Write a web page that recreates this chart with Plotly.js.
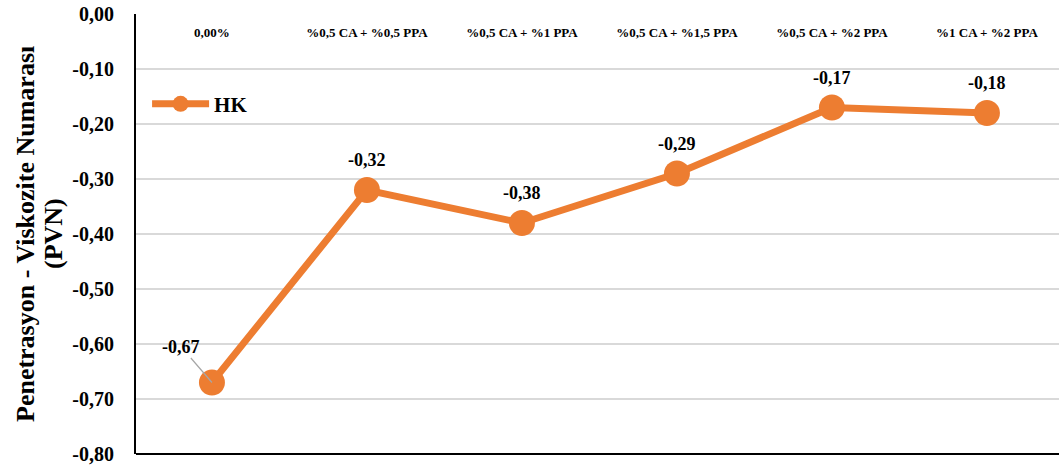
<!DOCTYPE html>
<html>
<head>
<meta charset="utf-8">
<script src="https://cdn.plot.ly/plotly-3.0.1.min.js"></script>
<style>html,body{margin:0;padding:0;background:#fff;}#chart{width:1059px;height:465px;}</style>
</head>
<body>
<div id="chart"></div>
<script>
const categories = ["0,00%", "%0,5 CA + %0,5 PPA", "%0,5 CA + %1 PPA", "%0,5 CA + %1,5 PPA", "%0,5 CA + %2 PPA", "%1 CA + %2 PPA"];
const hkValues = [-0.67, -0.32, -0.38, -0.29, -0.17, -0.18];
const yTickVals = [0, -0.1, -0.2, -0.3, -0.4, -0.5, -0.6, -0.7, -0.8];
const yTickText = ["0,00", "-0,10", "-0,20", "-0,30", "-0,40", "-0,50", "-0,60", "-0,70", "-0,80"];
const seriesName = "HK";
const yTitleLines = ["Penetrasyon - Viskozite Numarası", "(PVN)"];
const orange = "#ED7D31";
const serif = "Liberation Serif, Times New Roman, serif";

const fmt = v => v.toFixed(2).replace(".", ",");
const labelFont = {family: serif, size: 18, color: "#000", weight: "bold"};

const annotations = hkValues.map((v, i) => {
  if (i === 0) {
    return {x: categories[i], y: v, xref: "x", yref: "y", text: fmt(v),
      showarrow: true, arrowhead: 0, arrowwidth: 1.2, arrowcolor: "#a6a6a6",
      ax: -31, ay: -36, standoff: 0, font: labelFont};
  }
  return {x: categories[i], y: v, xref: "x", yref: "y", text: fmt(v),
    showarrow: false, yshift: 30, font: labelFont};
});

// y-axis title lines (rotated), placed left of tick labels
const titleX = [25, 53];
yTitleLines.forEach((t, i) => {
  annotations.push({xref: "paper", yref: "paper", x: (titleX[i] - 136) / 923, y: 0.5,
    xanchor: "center", yanchor: "middle", textangle: -90, showarrow: false, text: t,
    font: {family: serif, size: 26, color: "#000", weight: "bold"}});
});

const trace = {
  x: categories, y: hkValues, type: "scatter", mode: "lines+markers", name: seriesName,
  line: {color: orange, width: 7},
  marker: {color: orange, size: 26}
};

const layout = {
  width: 1059, height: 465,
  margin: {l: 136, r: 0, t: 14, b: 11, pad: 0},
  paper_bgcolor: "#fff", plot_bgcolor: "#fff",
  showlegend: true,
  legend: {x: 0.012, y: 0.795, xanchor: "left", yanchor: "middle", bgcolor: "rgba(0,0,0,0)",
    itemwidth: 57, font: {family: serif, size: 21, color: "#000", weight: "bold"}},
  xaxis: {
    type: "category", side: "bottom", anchor: "free", position: 0.98, range: [-0.49, 5.465],
    ticks: "", showgrid: false, zeroline: false, showline: false,
    tickfont: {family: serif, size: 13, color: "#000", weight: "bold"},
    fixedrange: true
  },
  yaxis: {
    range: [-0.8, 0], tickvals: yTickVals, ticktext: yTickText,
    showgrid: true, gridcolor: "#d9d9d9", gridwidth: 1.5, zeroline: false,
    showline: true, linecolor: "#000", linewidth: 2, ticks: "",
    tickfont: {family: serif, size: 20, color: "#000", weight: "bold"},
    ticklabelstandoff: 16,
    fixedrange: true
  },
  shapes: [{type: "line", xref: "paper", yref: "paper", x0: 0, x1: 1, y0: 0, y1: 0,
    line: {color: "#000", width: 2}}],
  annotations: annotations
};

Plotly.newPlot("chart", [trace], layout, {displayModeBar: false, staticPlot: true});
</script>
</body>
</html>
